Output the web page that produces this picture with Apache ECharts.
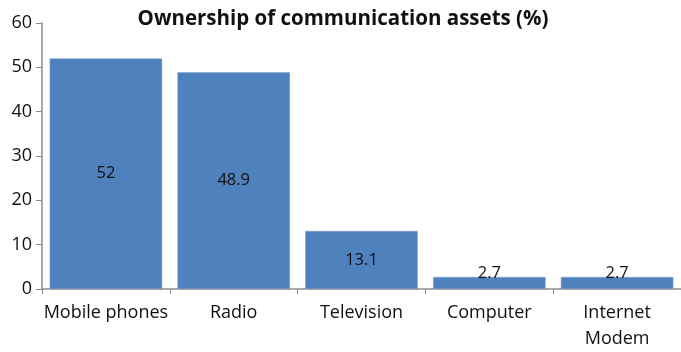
<!DOCTYPE html>
<html>
<head>
<meta charset="utf-8">
<script src="https://cdn.jsdelivr.net/npm/echarts@6/dist/echarts.min.js"></script>
<style>
  html, body { margin: 0; padding: 0; background: #fff; }
  #chart { width: 681px; height: 352px; }
</style>
</head>
<body>
<div id="chart"></div>
<script>
// Share of households owning each communication asset
const categories = ['Mobile phones', 'Radio', 'Television', 'Computer', 'Internet\nModem'];
const ownership = [52, 48.9, 13.1, 2.7, 2.7];
const yTicks = [0, 10, 20, 30, 40, 50, 60];

const FONT = '"Open Sans", "Liberation Sans", sans-serif';
const axisGray = '#8c8c8c';

const chart = echarts.init(document.getElementById('chart'), null, { renderer: 'canvas' });

chart.setOption({
  animation: false,
  title: {
    text: 'Ownership of communication assets (%)',
    left: 338,
    textAlign: 'center',
    top: 4,
    textStyle: { fontFamily: FONT, fontSize: 20.5, fontWeight: 'bold', color: '#111' }
  },
  grid: { left: 42, right: -1, top: 23, bottom: 62 },
  xAxis: {
    type: 'category',
    data: categories,
    axisLine: { lineStyle: { color: axisGray, width: 1.5 } },
    axisTick: { show: true, interval: 0, alignWithLabel: false, length: 5, lineStyle: { color: axisGray } },
    axisLabel: { interval: 0, fontFamily: FONT, fontSize: 18, color: '#111', margin: 11, lineHeight: 26 }
  },
  yAxis: {
    type: 'value',
    min: yTicks[0],
    max: yTicks[yTicks.length - 1],
    interval: yTicks[1] - yTicks[0],
    splitLine: { show: false },
    axisLine: { show: true, lineStyle: { color: axisGray, width: 1.5 } },
    axisTick: { show: true, length: 6, lineStyle: { color: axisGray } },
    axisLabel: { fontFamily: FONT, fontSize: 18, color: '#111', margin: 10 }
  },
  series: [{
    type: 'bar',
    data: ownership.map(v => v < 5 ? { value: v, label: { offset: [0, -10] } } : v),
    barCategoryGap: '12%',
    itemStyle: { color: '#4f81bd', borderColor: '#7a9fcf', borderWidth: 0.5 },
    label: {
      show: true,
      position: 'inside',
      fontFamily: FONT,
      fontSize: 16.5,
      color: '#111'
    }
  }]
});
</script>
</body>
</html>
